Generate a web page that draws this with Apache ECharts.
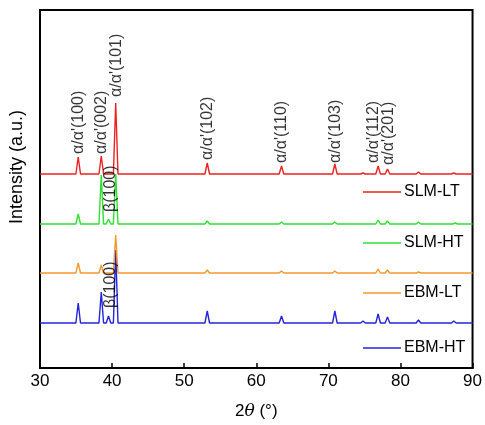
<!DOCTYPE html>
<html>
<head>
<meta charset="utf-8">
<script src="https://cdn.jsdelivr.net/npm/echarts@6/dist/echarts.min.js"></script>
<style>
  html, body { margin: 0; padding: 0; background: #fff; }
  #chart { width: 485px; height: 425px; }
</style>
</head>
<body>
<div id="chart"></div>
<script>
// x axis (2theta, deg)
const xTicks = [30, 40, 50, 60, 70, 80, 90];

// patterns: peak positions and heights (a.u.), plus vertical offset of each trace
const seriesNames = ["SLM-LT", "SLM-HT", "EBM-LT", "EBM-HT"];
const seriesColors = ["#ee2020", "#2fe02f", "#f5982e", "#2424dc"];
const offsets = [194, 144, 95, 45];

const slmLtPos = [35.3, 38.5, 40.5, 53.2, 63.5, 70.9, 74.8, 76.9, 78.2, 82.5, 87.4];
const slmLtInt = [17, 18, 71, 11, 8, 10, 1, 8, 5, 2, 1];

const slmHtPos = [35.3, 38.5, 39.5, 40.5, 53.2, 63.5, 70.9, 76.9, 78.2, 82.5, 87.6];
const slmHtInt = [10, 49, 5, 50, 3, 2, 2, 4, 3, 2, 1];

const ebmLtPos = [35.3, 38.5, 40.5, 53.2, 63.5, 70.9, 76.9, 78.2, 82.5];
const ebmLtInt = [10, 8, 38, 3, 2, 2, 4, 3, 1];

const ebmHtPos = [35.3, 38.5, 39.5, 40.5, 53.2, 63.5, 70.9, 74.8, 76.9, 78.2, 82.5, 87.4];
const ebmHtInt = [20, 31, 7, 73, 12, 7, 12, 2, 9, 6, 3, 2];

const peakHalfWidth = 0.32;

// peak annotations
const labelText = ["α/α'(100)", "α/α'(002)", "α/α'(101)", "α/α'(102)", "α/α'(110)",
  "α/α'(103)", "α/α'(112)", "α/α'(201)", "β(100)", "β(100)"];
const labelX = [35.3, 38.5, 40.6, 53.3, 63.5, 71.0, 76.3, 78.4, 39.8, 39.8];
const labelY = [214, 214, 271, 208, 205, 205, 205, 203, 156, 60];

function trace(pos, inten, off) {
  const pts = [[30, off]];
  pos.forEach((p, i) => {
    pts.push([p - peakHalfWidth, off]);
    pts.push([p, off + inten[i]]);
    pts.push([p + peakHalfWidth, off]);
  });
  pts.push([90, off]);
  return pts;
}

const traces = [
  trace(slmLtPos, slmLtInt, offsets[0]),
  trace(slmHtPos, slmHtInt, offsets[1]),
  trace(ebmLtPos, ebmLtInt, offsets[2]),
  trace(ebmHtPos, ebmHtInt, offsets[3])
];

const font = "'Liberation Sans', Arial, sans-serif";
const chart = echarts.init(document.getElementById("chart"));

// draw order: blue, orange, green, red on top
const lineSeries = [3, 2, 1, 0].map((i) => ({
  name: seriesNames[i],
  type: "line",
  data: traces[i],
  showSymbol: false,
  symbol: "none",
  lineStyle: { color: seriesColors[i], width: 1.4 },
  itemStyle: { color: seriesColors[i] },
  silent: true,
  z: 2 + (3 - i)
}));

const legendTops = [179, 230, 280, 335];

const option = {
  animation: false,
  grid: { left: 38, right: 12, top: 10, bottom: 57, show: true, borderColor: "#000", borderWidth: 2 },
  legend: seriesNames.map((n, i) => ({
    data: [n],
    left: 358,
    top: legendTops[i],
    icon: "rect",
    itemWidth: 38,
    itemHeight: 1.5,
    itemGap: 4,
    textStyle: { fontFamily: font, fontSize: 16, color: "#000", padding: [0, 0, 0, -2] }
  })),
  xAxis: {
    type: "value",
    min: xTicks[0],
    max: xTicks[xTicks.length - 1],
    interval: 10,
    name: "{n|2}{t|θ}{n| (°)}",
    nameLocation: "middle",
    nameGap: 35,
    nameTextStyle: {
      rich: {
        n: { fontFamily: font, fontSize: 17, color: "#000" },
        t: { fontFamily: "'DejaVu Serif', serif", fontStyle: "italic", fontSize: 17, color: "#000" }
      }
    },
    axisLine: { lineStyle: { color: "#000", width: 2 } },
    axisTick: { inside: true, length: 5, lineStyle: { color: "#000", width: 1.5 } },
    axisLabel: { fontFamily: font, fontSize: 17, color: "#000", margin: 5 },
    splitLine: { show: false }
  },
  yAxis: {
    type: "value",
    min: 0,
    max: 358,
    name: "Intensity (a.u.)",
    nameLocation: "middle",
    nameGap: 14,
    nameTextStyle: { fontFamily: font, fontSize: 18, color: "#000", padding: [0, 0, 0, 44] },
    axisLine: { show: false },
    axisTick: { show: false },
    axisLabel: { show: false },
    splitLine: { show: false }
  },
  series: lineSeries.concat([{
    type: "scatter",
    symbolSize: 0,
    silent: true,
    z: 10,
    data: labelX.map((x, i) => [x, labelY[i]]),
    label: {
      show: true,
      position: "inside",
      rotate: 90,
      align: "left",
      verticalAlign: "middle",
      fontFamily: font,
      fontSize: 16,
      color: "#000",
      formatter: (p) => labelText[p.dataIndex]
    }
  }])
};

chart.setOption(option);
</script>
</body>
</html>
